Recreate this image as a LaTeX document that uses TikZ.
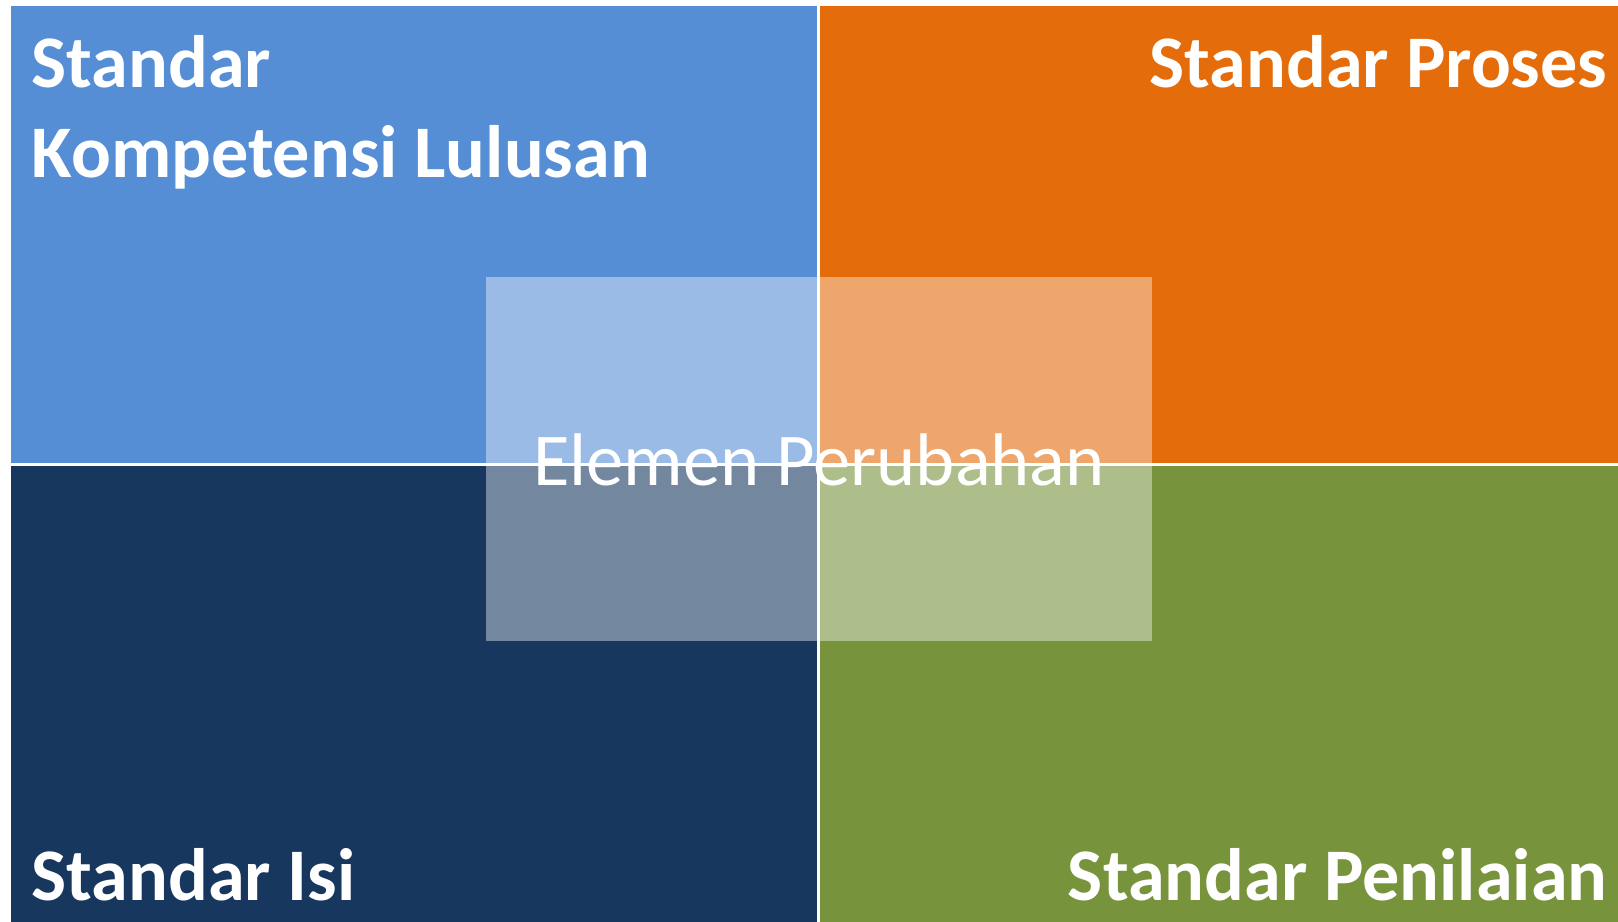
\documentclass[tikz,border=0pt]{standalone}
\usepackage{fontspec}
\setmainfont{Carlito}
\usetikzlibrary{positioning}

\definecolor{skl}{HTML}{558ED5}
\definecolor{proses}{HTML}{E46C0A}
\definecolor{isi}{HTML}{17375E}
\definecolor{nilai}{HTML}{77933C}

\begin{document}
\begin{tikzpicture}[x=0.01cm, y=-0.01cm,
        label/.style={inner sep=0pt, text=white, font=\fontsize{21.1}{25.6}\selectfont\bfseries, align=left}
    ]
        \useasboundingbox[fill=white] (0,0) rectangle (1618,922);

        % Quadrants
        \fill[skl] (11,6) rectangle (817,463);
        \fill[proses] (820,6) rectangle (1618,463);
        \fill[isi] (11,466) rectangle (817,922);
        \fill[nilai] (820,466) rectangle (1618,922);

        % Quadrant titles
        \node[label, anchor=base west] (skl) at (31,178) {Standar\\Kompetensi Lulusan};
        \node[label, anchor=base east] (proses) at (1608,88) {Standar Proses};
        \node[label, anchor=base west] (isi) at (31,900) {Standar Isi};
        \node[label, anchor=base east] (nilai) at (1608,900) {Standar Penilaian};

        % Centre element
        \fill[white, fill opacity=0.4] (486,277) rectangle (1152,641);
        \node[text=white, inner sep=0pt, anchor=base, font=\fontsize{21.2}{24}\selectfont] (elemen) at (819,486) {Elemen Perubahan};
    \end{tikzpicture}
\end{document}
